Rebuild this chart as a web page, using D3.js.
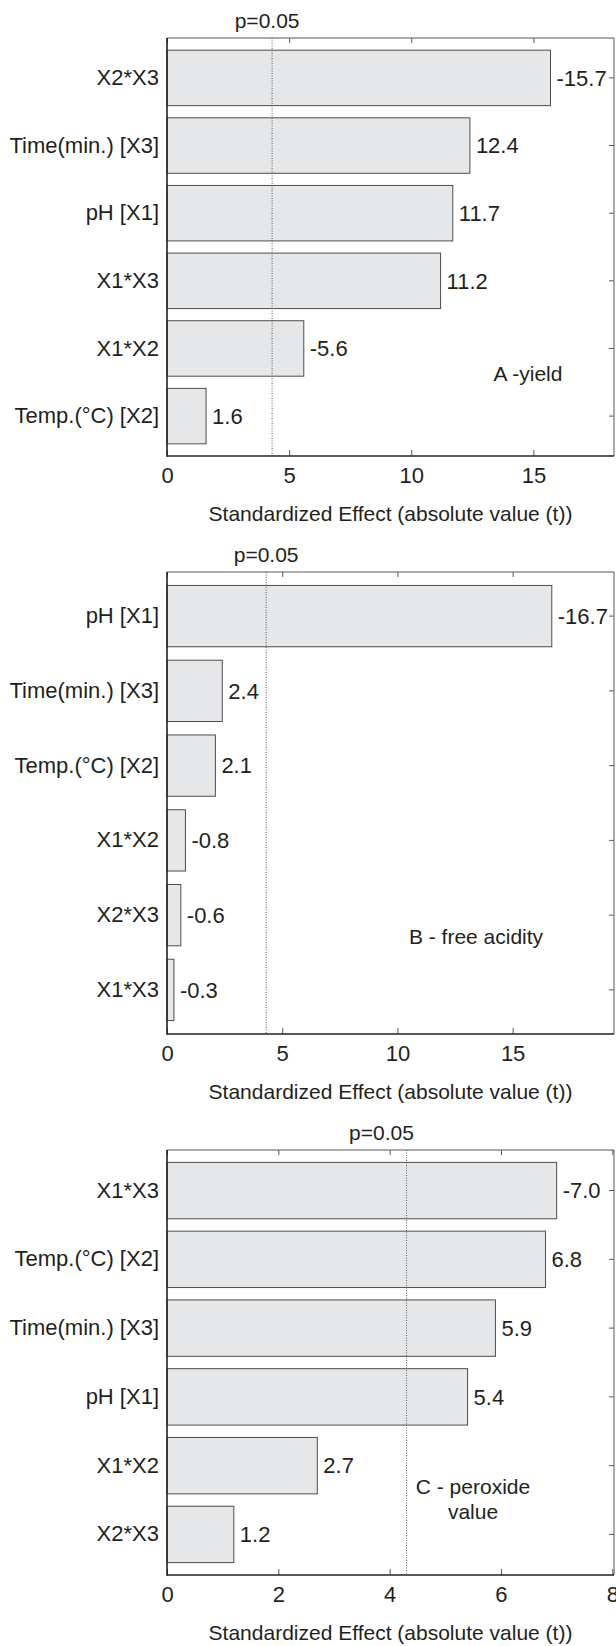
<!DOCTYPE html>
<html>
<head>
<meta charset="utf-8">
<script src="https://cdn.jsdelivr.net/npm/d3@7"></script>
<style>
  body { margin: 0; background: #fff; }
  svg text { font-family: "Liberation Sans", Arial, sans-serif; font-size: 22px; fill: #231f20; }
  svg text.small { font-size: 21px; }
</style>
</head>
<body>
<div id="graph"></div>
<script>
// Pareto charts of standardized effects, three responses
let termsA = ["X2*X3", "Time(min.) [X3]", "pH [X1]", "X1*X3", "X1*X2", "Temp.(\u00B0C) [X2]"];
let effectsA = [-15.7, 12.4, 11.7, 11.2, -5.6, 1.6];

let termsB = ["pH [X1]", "Time(min.) [X3]", "Temp.(\u00B0C) [X2]", "X1*X2", "X2*X3", "X1*X3"];
let effectsB = [-16.7, 2.4, 2.1, -0.8, -0.6, -0.3];

let termsC = ["X1*X3", "Temp.(\u00B0C) [X2]", "Time(min.) [X3]", "pH [X1]", "X1*X2", "X2*X3"];
let effectsC = [-7.0, 6.8, 5.9, 5.4, 2.7, 1.2];

let ticksAB = [0, 5, 10, 15];
let ticksC = [0, 2, 4, 6, 8];
let xMax = [18.3, 19.4, 8.03];

let pCrit = 4.303;   // t(0.025, 2)
let pLabel = "p=0.05";
let xTitle = "Standardized Effect (absolute value (t))";
let notes = [["A -yield"], ["B - free acidity"], ["C - peroxide", "value"]];

let svgWidth = 616, svgHeight = 1646;
let left = 167, right = 614;

// layout of each panel (frame top / bottom, note position)
let panels = [
  { terms: termsA, effects: effectsA, ticks: ticksAB, max: xMax[0], top: 38, bottom: 456, note: notes[0], noteX: 528, noteY: 374, pShift: -5 },
  { terms: termsB, effects: effectsB, ticks: ticksAB, max: xMax[1], top: 572, bottom: 1034, note: notes[1], noteX: 476, noteY: 937, pShift: 0 },
  { terms: termsC, effects: effectsC, ticks: ticksC, max: xMax[2], top: 1150, bottom: 1575, note: notes[2], noteX: 473, noteY: 1487, pShift: -25 }
];

let svg = d3.select("#graph")
  .append("svg")
  .attr("width", svgWidth)
  .attr("height", svgHeight);

function drawPanel(p) {
  let g = svg.append("g");

  let xScale = d3.scaleLinear()
    .domain([0, p.max])
    .range([left, right]);

  let yScale = d3.scaleBand()
    .domain(p.terms)
    .range([p.top, p.bottom])
    .padding(0.18);

  // bars
  g.selectAll("rect")
    .data(p.terms)
    .enter()
    .append("rect")
    .attr("x", xScale(0))
    .attr("y", d => yScale(d))
    .attr("width", (d, i) => xScale(Math.abs(p.effects[i])) - xScale(0))
    .attr("height", yScale.bandwidth())
    .style("fill", "#e6e7e8")
    .style("stroke", "#4d4d4f")
    .style("stroke-width", 1);

  // value labels
  g.selectAll("text.val")
    .data(p.terms)
    .enter()
    .append("text")
    .attr("class", "val")
    .attr("x", (d, i) => xScale(Math.abs(p.effects[i])) + 6)
    .attr("y", d => yScale(d) + yScale.bandwidth() / 2)
    .attr("dy", "0.35em")
    .text((d, i) => p.effects[i].toFixed(1));

  // p=0.05 reference line
  g.append("line")
    .attr("x1", xScale(pCrit)).attr("x2", xScale(pCrit))
    .attr("y1", p.top).attr("y2", p.bottom)
    .style("stroke", "#58595b")
    .style("stroke-width", 1)
    .style("stroke-dasharray", "1,1.5");

  g.append("text")
    .attr("class", "small")
    .attr("x", xScale(pCrit) + p.pShift)
    .attr("y", p.top - 10.5)
    .style("text-anchor", "middle")
    .text(pLabel);

  // axes
  let bottomAxis = g.append("g")
    .attr("transform", `translate(0, ${p.bottom})`)
    .call(d3.axisBottom(xScale).tickValues(p.ticks).tickSizeInner(-6).tickSizeOuter(0).tickPadding(11.5));

  let topAxis = g.append("g")
    .attr("transform", `translate(0, ${p.top})`)
    .call(d3.axisTop(xScale).tickValues(p.ticks).tickSizeInner(-5).tickSizeOuter(0).tickFormat(""));

  let rightAxis = g.append("g")
    .attr("transform", `translate(${right}, 0)`)
    .call(d3.axisRight(yScale).tickSizeInner(-5).tickSizeOuter(0).tickFormat(""));

  let leftAxis = g.append("g")
    .attr("transform", `translate(${left}, 0)`)
    .call(d3.axisLeft(yScale).tickSize(0).tickPadding(8));

  [bottomAxis, topAxis, rightAxis, leftAxis].forEach(a => {
    a.select(".domain").remove();
    a.attr("font-size", null).attr("font-family", null);
    a.selectAll("line").style("stroke", "#58595b").style("stroke-width", 1);
    a.selectAll("text").style("fill", "#231f20");
  });

  // frame: heavy left / bottom, light top / right
  g.append("line")
    .attr("x1", left).attr("x2", right).attr("y1", p.top).attr("y2", p.top)
    .style("stroke", "#58595b").style("stroke-width", 1);
  g.append("line")
    .attr("x1", right).attr("x2", right).attr("y1", p.top).attr("y2", p.bottom)
    .style("stroke", "#58595b").style("stroke-width", 1);
  g.append("line")
    .attr("x1", left).attr("x2", left).attr("y1", p.top).attr("y2", p.bottom + 0.8)
    .style("stroke", "#231f20").style("stroke-width", 1.6);
  g.append("line")
    .attr("x1", left).attr("x2", right).attr("y1", p.bottom).attr("y2", p.bottom)
    .style("stroke", "#231f20").style("stroke-width", 1.6);

  // axis title
  g.append("text")
    .attr("class", "small")
    .attr("x", (left + right) / 2)
    .attr("y", p.bottom + 64.5)
    .style("text-anchor", "middle")
    .text(xTitle);

  // panel note
  g.selectAll("text.note")
    .data(p.note)
    .enter()
    .append("text")
    .attr("class", "note small")
    .attr("x", p.noteX)
    .attr("y", (d, i) => p.noteY + i * 25)
    .attr("dy", "0.35em")
    .style("text-anchor", "middle")
    .text(d => d);
}

panels.forEach(drawPanel);
</script>
</body>
</html>
